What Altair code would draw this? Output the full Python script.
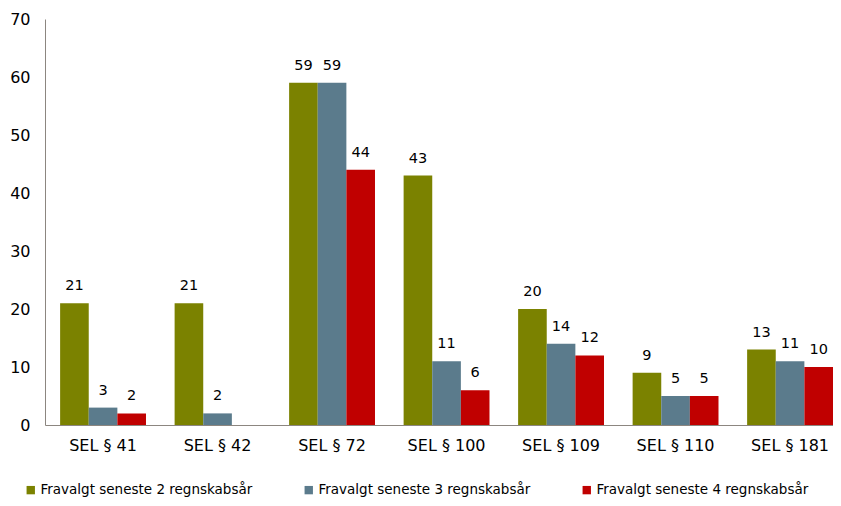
import altair as alt
import pandas as pd

categories = ["SEL § 41", "SEL § 42", "SEL § 72", "SEL § 100", "SEL § 109", "SEL § 110", "SEL § 181"]
series = ["Fravalgt seneste 2 regnskabsår", "Fravalgt seneste 3 regnskabsår", "Fravalgt seneste 4 regnskabsår"]
s2 = [21, 21, 59, 43, 20, 9, 13]
s3 = [3, 2, 59, 11, 14, 5, 11]
s4 = [2, None, 44, 6, 12, 5, 10]
colors = ["#7B8200", "#5B7B8C", "#C00000"]

rows = []
for name, vals in zip(series, [s2, s3, s4]):
    for c, v in zip(categories, vals):
        if v is not None:
            rows.append({"cat": c, "series": name, "value": v})
df = pd.DataFrame(rows)

FONT = "DejaVu Sans"

x = alt.X("cat:N", sort=categories, title=None,
          scale=alt.Scale(paddingInner=0.25, paddingOuter=0.066, align=1),
          axis=alt.Axis(labelAngle=0, ticks=False, labelFontSize=16, labelPadding=12,
                        labelColor="#000000", domainColor="#8C8680", labelFont=FONT))
y = alt.Y("value:Q", title=None,
          scale=alt.Scale(domain=[0, 70], nice=False),
          axis=alt.Axis(values=list(range(0, 71, 10)), grid=False, ticks=False,
                        labelFontSize=16, labelPadding=15, labelColor="#000000",
                        domainColor="#8C8680", labelFont=FONT))
xo = alt.XOffset("series:N", sort=series)

bars = alt.Chart(df).mark_bar().encode(
    x=x, y=y, xOffset=xo,
    color=alt.Color("series:N", sort=series,
                    scale=alt.Scale(domain=series, range=colors),
                    legend=alt.Legend(title=None, orient="none", legendX=-21, legendY=464,
                                      direction="horizontal", columns=3, columnPadding=49,
                                      symbolType="square", symbolSize=70, symbolStrokeWidth=0,
                                      labelFontSize=13.5, labelFont=FONT, labelColor="#000000",
                                      labelOffset=3, labelLimit=400)),
)
text = alt.Chart(df).mark_text(dy=-17, fontSize=14.5, font=FONT, color="#000000").encode(
    x=x, y=y, xOffset=xo, text="value:Q")

chart = alt.layer(bars, text).properties(
    width=788, height=406,
    autosize=alt.AutoSizeParams(type="none"),
    padding={"left": 37, "top": 11, "right": 0, "bottom": 72},
).configure_view(stroke=None)

chart.save("out.html", embed_options={"renderer": "svg", "actions": False})
